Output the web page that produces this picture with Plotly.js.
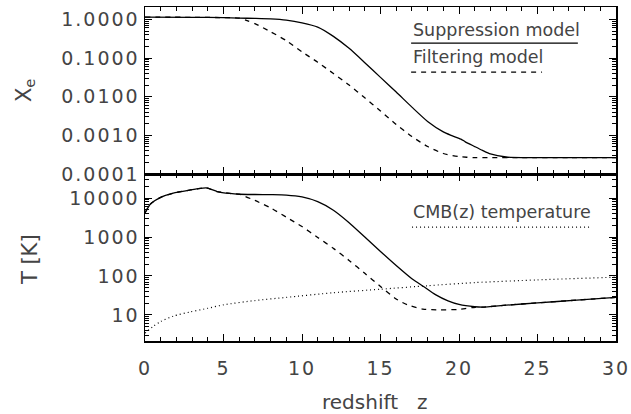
<!DOCTYPE html>
<html>
<head>
<meta charset="utf-8">
<script src="https://cdn.plot.ly/plotly-3.0.1.min.js"></script>
<style>
html,body{margin:0;padding:0;background:#fff;}
#chart{width:631px;height:414px;}
.xtick text, .ytick text, .y2tick text {letter-spacing: 2px;}
</style>
</head>
<body>
<div id="chart"></div>
<script>
// ---- data ----
// Top panel: ionized fraction X_e
const zXeSup = [0, 3, 5, 6, 7, 8, 9, 10, 11, 12, 13, 14, 15, 16, 17, 18, 19, 19.5, 20.0, 20.15, 20.4, 21, 21.5, 22, 23, 24, 27, 30];
const xeSup  = [1.14, 1.13, 1.11, 1.08, 1.06, 1.03, 0.955, 0.813, 0.631, 0.363, 0.178, 0.0759, 0.0316, 0.0132, 0.00537, 0.00229, 0.00123, 0.001, 0.00083, 0.00079, 0.00068, 0.000513, 0.000407, 0.000331, 0.000275, 0.000265, 0.000265, 0.000265];

const zXeFil = [0, 3, 5, 6, 6.5, 7, 8, 9, 10, 11, 12, 13, 14, 15, 16, 17, 18, 19, 20, 21, 22, 24, 27, 30];
const xeFil  = [1.14, 1.13, 1.11, 1.08, 0.93, 0.78, 0.479, 0.282, 0.145, 0.0776, 0.0398, 0.02, 0.00933, 0.00427, 0.00191, 0.000933, 0.000513, 0.000339, 0.000282, 0.000265, 0.000265, 0.000265, 0.000265, 0.000265];

// Bottom panel: temperature T [K]
const zTSup = [0, 0.35, 1, 1.8, 2.9, 3.3, 3.9, 4.6, 5.4, 6, 7, 8, 9, 10, 11, 12, 13, 14, 15, 16, 17, 17.74, 18.5, 19.3, 20, 21, 21.5, 23, 25, 27.5, 30];
const tSup  = [4170, 7080, 10500, 13500, 16200, 17200, 18400, 14800, 13200, 12600, 12400, 12300, 12000, 10720, 8130, 4900, 2340, 1000, 427, 186, 85.1, 53.7, 33.1, 22.9, 18.6, 16.2, 15.8, 17.8, 20.4, 24.0, 28.2];

const zTFil = [0, 0.35, 1, 1.8, 2.9, 3.3, 3.9, 4.6, 5.4, 6, 7, 8, 9, 10, 11, 12, 13, 14, 15, 16, 16.7, 17.7, 18.8, 19.9, 20.9, 21.5, 23, 25, 27.5, 30];
const tFil  = [4170, 7080, 10500, 13500, 16200, 17200, 18400, 14800, 13200, 12600, 8710, 5620, 3240, 1860, 977, 513, 251, 117, 53.7, 25.7, 18.2, 14.1, 13.5, 13.8, 15.5, 15.8, 17.8, 20.4, 24.0, 28.2];

const zCmb = [0, 0.5, 1, 1.8, 2.9, 4, 5, 7, 9, 12, 15, 18, 21, 25, 30];
const tCmb = [3.4, 5.0, 6.8, 9.3, 12.0, 14.8, 18.2, 23.4, 28.2, 37.2, 45.7, 56.2, 67.6, 79.4, 93.3];

// Tick labels
const xTickVals = [0, 5, 10, 15, 20, 25, 30];
const xTickText = ['0', '5', '10', '15', '20', '25', '30'];
const xeTickVals = [1, 0.1, 0.01, 0.001, 0.0001];
const xeTickText = ['1.0000', '0.1000', '0.0100', '0.0010', '0.0001'];
const tTickVals = [10, 100, 1000, 10000];
const tTickText = ['10', '100', '1000', '10000'];

// Labels
const legendSup = 'Suppression model';
const legendFil = 'Filtering model';
const legendCmb = 'CMB(z) temperature';

const lineCol = '#000';
const traces = [
  {x: zXeSup, y: xeSup, xaxis: 'x2', yaxis: 'y2', mode: 'lines', line: {color: lineCol, width: 1.3, shape: 'spline', smoothing: 0.6}},
  {x: zXeFil, y: xeFil, xaxis: 'x2', yaxis: 'y2', mode: 'lines', line: {color: lineCol, width: 1.3, dash: '5px,5px', shape: 'spline', smoothing: 0.6}},
  {x: zTFil, y: tFil, xaxis: 'x', yaxis: 'y', mode: 'lines', line: {color: lineCol, width: 1.3, dash: '5px,5px', shape: 'spline', smoothing: 0.6}},
  {x: zTSup, y: tSup, xaxis: 'x', yaxis: 'y', mode: 'lines', line: {color: lineCol, width: 1.3, shape: 'spline', smoothing: 0.6}},
  {x: zCmb, y: tCmb, xaxis: 'x', yaxis: 'y', mode: 'lines', line: {color: lineCol, width: 1.2, dash: '1px,3px', shape: 'spline', smoothing: 0.6}}
];

const tickFnt = {family: 'DejaVu Sans', size: 19, color: '#444'};
const legFnt = {family: 'DejaVu Sans', size: 17.5, color: '#444'};
const titleFnt = {family: 'DejaVu Sans', size: 20, color: '#444'};
const xCommon = {
  range: [0, 30], tickmode: 'array', tickvals: xTickVals, ticktext: xTickText,
  ticks: 'inside', ticklen: 7, tickwidth: 1, tickcolor: '#000',
  minor: {ticks: 'inside', ticklen: 4, tickwidth: 1, tickcolor: '#000', dtick: 1, tick0: 0, showgrid: false},
  showline: true, linecolor: '#000', linewidth: 1.5, mirror: 'allticks',
  showgrid: false, zeroline: false, tickfont: tickFnt
};
const yCommon = {
  type: 'log', tickmode: 'array',
  ticks: 'inside', ticklen: 7, tickwidth: 1, tickcolor: '#000',
  minor: {ticks: 'inside', ticklen: 4, tickwidth: 1, tickcolor: '#000', dtick: 'D1', showgrid: false},
  showline: true, linecolor: '#000', linewidth: 1.5, mirror: 'allticks',
  showgrid: false, zeroline: false, tickfont: tickFnt
};

const layout = {
  width: 631, height: 414,
  margin: {l: 145, r: 15, t: 7, b: 73},
  paper_bgcolor: '#fff', plot_bgcolor: '#fff',
  showlegend: false,
  font: tickFnt,
  xaxis: Object.assign({}, xCommon, {domain: [0, 1], anchor: 'y', ticklabelstandoff: 10}),
  xaxis2: Object.assign({}, xCommon, {domain: [0, 1], anchor: 'y2', matches: 'x', showticklabels: false}),
  yaxis: Object.assign({}, yCommon, {domain: [0, 0.5], anchor: 'x', range: [0.33, 4.62], tickvals: tTickVals, ticktext: tTickText}),
  yaxis2: Object.assign({}, yCommon, {domain: [0.5, 1], anchor: 'x2', range: [-4.0, 0.32], tickvals: xeTickVals, ticktext: xeTickText}),
  annotations: [
    {text: 'X<sub>e</sub>', xref: 'paper', yref: 'paper', x: -0.255, y: 0.751, xanchor: 'center', yanchor: 'middle', textangle: -90, showarrow: false, font: {family: 'DejaVu Sans', size: 21, color: '#444'}},
    {text: 'T [K]', xref: 'paper', yref: 'paper', x: -0.244, y: 0.2425, xanchor: 'center', yanchor: 'middle', textangle: -90, showarrow: false, font: {family: 'DejaVu Sans', size: 21, color: '#444'}},
    {text: 'redshift&nbsp;&nbsp; z', xref: 'paper', yref: 'paper', x: 0.488, y: -0.183, xanchor: 'center', yanchor: 'middle', showarrow: false, font: titleFnt},
    {text: legendSup, xref: 'paper', yref: 'paper', x: 0.565, y: 0.931, xanchor: 'left', yanchor: 'middle', showarrow: false, font: legFnt},
    {text: legendFil, xref: 'paper', yref: 'paper', x: 0.565, y: 0.850, xanchor: 'left', yanchor: 'middle', showarrow: false, font: legFnt},
    {text: legendCmb, xref: 'paper', yref: 'paper', x: 0.565, y: 0.386, xanchor: 'left', yanchor: 'middle', showarrow: false, font: legFnt}
  ],
  shapes: [
    {type: 'line', xref: 'paper', yref: 'paper', x0: 0.565, x1: 0.919, y0: 0.892, y1: 0.892, line: {color: '#000', width: 1.3}},
    {type: 'line', xref: 'paper', yref: 'paper', x0: 0.565, x1: 0.843, y0: 0.805, y1: 0.805, line: {color: '#000', width: 1.3, dash: '5px,5px'}},
    {type: 'line', xref: 'paper', yref: 'paper', x0: 0.567, x1: 0.945, y0: 0.341, y1: 0.341, line: {color: '#000', width: 1.2, dash: '1px,3px'}}
  ]
};

Plotly.newPlot('chart', traces, layout, {displayModeBar: false, staticPlot: true});
</script>
</body>
</html>
